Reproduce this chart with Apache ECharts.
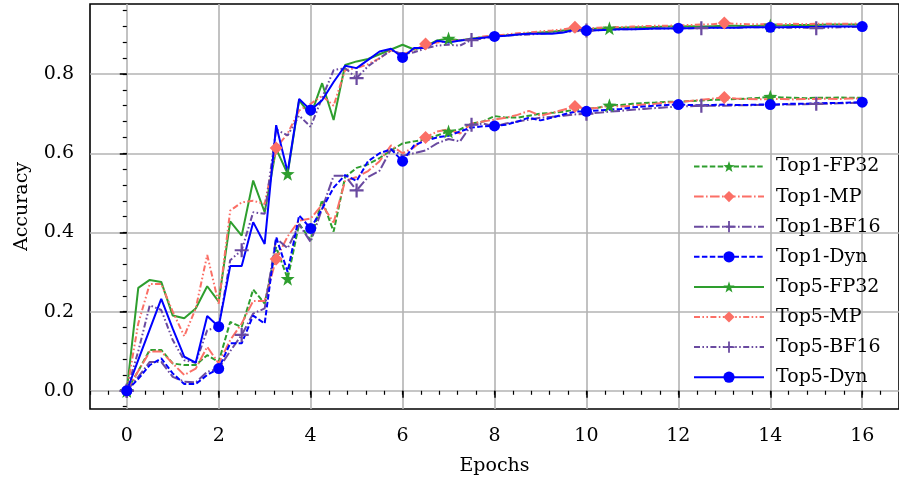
<!DOCTYPE html>
<html>
<head>
<meta charset="utf-8">
<script src="https://cdn.jsdelivr.net/npm/echarts@6/dist/echarts.min.js"></script>
<style>
html,body{margin:0;padding:0;background:#fff;}
#chart{width:899px;height:483px;}
</style>
</head>
<body>
<div id="chart"></div>
<script>
const epochs = [0,0.25,0.5,0.75,1,1.25,1.5,1.75,2,2.25,2.5,2.75,3,3.25,3.5,3.75,4,4.25,4.5,4.75,5,5.25,5.5,5.75,6,6.25,6.5,6.75,7,7.25,7.5,7.75,8,8.25,8.5,8.75,9,9.25,9.5,9.75,10,10.25,10.5,10.75,11,11.25,11.5,11.75,12,12.25,12.5,12.75,13,13.25,13.5,13.75,14,14.25,14.5,14.75,15,15.25,15.5,15.75,16];

const top1FP32 = [0,0.05,0.103,0.103, 0.069,0.065,0.065,0.09, 0.073,0.174,0.161,0.256, 0.22,0.363,0.283,0.422, 0.38,0.482,0.402,0.54, 0.563,0.572,0.588,0.607, 0.625,0.63,0.635,0.645, 0.655,0.66,0.675,0.68, 0.694,0.69,0.69,0.695, 0.7,0.702,0.705,0.71, 0.712,0.715,0.721,0.722, 0.725,0.727,0.728,0.73, 0.73,0.732,0.733,0.735, 0.735,0.737,0.738,0.74, 0.743,0.741,0.74,0.739, 0.74,0.74,0.741,0.74, 0.74];
const top1MP = [0,0.05,0.099,0.099, 0.069,0.04,0.056,0.111, 0.069,0.128,0.17,0.227, 0.227,0.333,0.39,0.43, 0.435,0.47,0.425,0.53, 0.54,0.555,0.58,0.62, 0.6,0.615,0.64,0.655, 0.66,0.65,0.675,0.68, 0.685,0.69,0.697,0.707, 0.695,0.702,0.71,0.718, 0.712,0.715,0.72,0.718, 0.72,0.723,0.725,0.728, 0.73,0.732,0.735,0.738, 0.741,0.738,0.737,0.736, 0.737,0.737,0.736,0.737, 0.737,0.738,0.737,0.738, 0.738];
const top1BF16 = [0,0.035,0.073,0.073, 0.035,0.023,0.021,0.048, 0.056,0.1,0.141,0.195, 0.208,0.385,0.36,0.42, 0.376,0.46,0.543,0.543, 0.506,0.54,0.556,0.61, 0.594,0.6,0.607,0.625, 0.636,0.63,0.672,0.675, 0.668,0.675,0.68,0.685, 0.69,0.692,0.695,0.698, 0.7,0.702,0.705,0.707, 0.71,0.712,0.714,0.716, 0.718,0.719,0.72,0.72, 0.72,0.721,0.721,0.722, 0.722,0.723,0.723,0.724, 0.725,0.725,0.726,0.727, 0.728];
const top1Dyn = [0,0.03,0.065,0.082, 0.044,0.017,0.017,0.04, 0.056,0.12,0.12,0.19, 0.17,0.388,0.3,0.443, 0.41,0.46,0.513,0.545, 0.53,0.58,0.6,0.61, 0.58,0.62,0.632,0.64, 0.644,0.655,0.665,0.668, 0.669,0.672,0.68,0.69, 0.683,0.69,0.698,0.705, 0.706,0.708,0.71,0.712, 0.716,0.718,0.72,0.722, 0.723,0.722,0.721,0.722, 0.723,0.722,0.722,0.723, 0.723,0.724,0.725,0.725, 0.726,0.727,0.727,0.728, 0.729];
const top5FP32 = [0,0.26,0.28,0.275, 0.19,0.183,0.208,0.264, 0.225,0.428,0.392,0.531, 0.451,0.611,0.548,0.734, 0.695,0.777,0.684,0.823, 0.832,0.838,0.85,0.862, 0.874,0.862,0.87,0.885, 0.89,0.885,0.89,0.893, 0.897,0.898,0.9,0.903, 0.905,0.907,0.91,0.912, 0.913,0.915,0.916,0.917, 0.918,0.918,0.919,0.92, 0.92,0.921,0.92,0.921, 0.922,0.922,0.921,0.922, 0.923,0.923,0.924,0.924, 0.924,0.925,0.925,0.925, 0.925];
const top5MP = [0,0.17,0.27,0.27, 0.2,0.138,0.208,0.343, 0.22,0.455,0.476,0.48, 0.472,0.613,0.65,0.708, 0.725,0.745,0.72,0.81, 0.815,0.825,0.84,0.86, 0.85,0.86,0.876,0.88, 0.882,0.886,0.888,0.895, 0.897,0.9,0.903,0.905, 0.908,0.91,0.913,0.918, 0.915,0.917,0.918,0.919, 0.92,0.921,0.922,0.922, 0.923,0.924,0.925,0.926, 0.929,0.927,0.926,0.926, 0.926,0.926,0.927,0.926, 0.927,0.927,0.927,0.927, 0.928];
const top5BF16 = [0,0.1,0.216,0.204, 0.128,0.077,0.071,0.153, 0.162,0.33,0.355,0.451, 0.447,0.66,0.645,0.695, 0.667,0.74,0.81,0.815, 0.79,0.82,0.84,0.86, 0.85,0.855,0.865,0.872, 0.874,0.872,0.886,0.89, 0.895,0.897,0.899,0.9, 0.902,0.904,0.906,0.908, 0.91,0.911,0.912,0.913, 0.913,0.914,0.915,0.915, 0.916,0.916,0.916,0.917, 0.917,0.917,0.918,0.918, 0.918,0.917,0.917,0.917, 0.916,0.917,0.918,0.919, 0.92];
const top5Dyn = [0,0.078,0.155,0.232, 0.157,0.086,0.071,0.189, 0.162,0.315,0.315,0.426, 0.371,0.671,0.552,0.737, 0.709,0.734,0.78,0.821, 0.815,0.836,0.857,0.864, 0.842,0.866,0.866,0.884, 0.88,0.885,0.888,0.892, 0.895,0.897,0.9,0.902, 0.902,0.902,0.905,0.912, 0.91,0.911,0.912,0.913, 0.913,0.914,0.915,0.915, 0.916,0.916,0.917,0.917, 0.917,0.917,0.918,0.918, 0.918,0.918,0.919,0.919, 0.919,0.92,0.92,0.92, 0.92];

const xMajorTicks = [0,2,4,6,8,10,12,14,16];
const xMinorTicks = [-0.8,-0.4,0,0.4,0.8,1.2,1.6,2,2.4,2.8,3.2,3.6,4,4.4,4.8,5.2,5.6,6,6.4,6.8,7.2,7.6,8,8.4,8.8,9.2,9.6,10,10.4,10.8,11.2,11.6,12,12.4,12.8,13.2,13.6,14,14.4,14.8,15.2,15.6,16,16.4,16.8];
const yMajorTicks = [0,0.2,0.4,0.6,0.8];
const yMinorTicks = [-0.04,0,0.04,0.08,0.12,0.16,0.2,0.24,0.28,0.32,0.36,0.4,0.44,0.48,0.52,0.56,0.6,0.64,0.68,0.72,0.76,0.8,0.84,0.88,0.92,0.96];

const GREEN = '#2e9e2e', SALMON = '#fb6f66', PURPLE = '#6a4aa0', BLUE = '#0000ff';
const STAR = 'path://M0,-10 L2.35,-3.24 L9.51,-3.09 L3.8,1.24 L5.88,8.09 L0,4 L-5.88,8.09 L-3.8,1.24 L-9.51,-3.09 L-2.35,-3.24 Z';
const PLUS = 'path://M-1.6,-10 L1.6,-10 L1.6,-1.6 L10,-1.6 L10,1.6 L1.6,1.6 L1.6,10 L-1.6,10 L-1.6,1.6 L-10,1.6 L-10,-1.6 L-1.6,-1.6 Z';
const DASHED = [5.5, 2.4];
const DASHDOT = [9.6, 2.4, 1.6, 2.4];
const DASHDOTDOT = [6, 2.4, 1.6, 2.4, 1.6, 2.4];

function mk(name, vals, color, dash, symbol, size, every) {
  return {
    name: name,
    type: 'line',
    data: epochs.map((e, i) => [e, vals[i]]),
    xAxisIndex: 0, yAxisIndex: 0,
    color: color,
    lineStyle: { color: color, width: 2, type: dash },
    itemStyle: { color: color },
    symbol: symbol,
    symbolSize: (v, p) => (p.dataIndex % every === 0 ? size : 0),
    showSymbol: true,
    showAllSymbol: true,
    z: 3
  };
}

const series = [
  mk('Top1-FP32', top1FP32, GREEN, DASHED, STAR, 14, 14),
  mk('Top1-MP', top1MP, SALMON, DASHDOT, 'diamond', 13, 13),
  mk('Top1-BF16', top1BF16, PURPLE, DASHDOT, PLUS, 14, 10),
  mk('Top1-Dyn', top1Dyn, BLUE, DASHED, 'circle', 11, 8),
  mk('Top5-FP32', top5FP32, GREEN, 'solid', STAR, 14, 14),
  mk('Top5-MP', top5MP, SALMON, DASHDOTDOT, 'diamond', 13, 13),
  mk('Top5-BF16', top5BF16, PURPLE, DASHDOTDOT, PLUS, 14, 10),
  mk('Top5-Dyn', top5Dyn, BLUE, 'solid', 'circle', 11, 8)
];

const FONT = 'DejaVu Serif';
const chart = echarts.init(document.getElementById('chart'), null, { renderer: 'canvas' });
chart.setOption({
  animation: false,
  backgroundColor: '#fff',
  textStyle: { fontFamily: FONT },
  grid: [{ left: 90, top: 4, width: 815, height: 405, show: true, borderColor: '#000', borderWidth: 1.6, backgroundColor: 'transparent' }],
  xAxis: [
    {
      type: 'value', gridIndex: 0, min: -0.8, max: 16.8, position: 'bottom',
      name: 'Epochs', nameLocation: 'middle', nameGap: 48,
      nameTextStyle: { fontFamily: FONT, fontSize: 19, color: '#000' },
      axisLine: { show: false },
      axisTick: { show: true, customValues: xMajorTicks, length: 7, inside: false, lineStyle: { color: '#000', width: 1.5 } },
      axisLabel: { show: true, customValues: xMajorTicks, margin: 18, fontFamily: FONT, fontSize: 19, color: '#000', formatter: v => String(v) },
      splitLine: { show: true, lineStyle: { color: '#b3b3b3', width: 1.6 } }
    },
    {
      type: 'value', gridIndex: 0, min: -0.8, max: 16.8, position: 'bottom', offset: 0,
      axisLine: { show: false },
      axisTick: { show: true, customValues: xMinorTicks, length: 4, inside: false, lineStyle: { color: '#000', width: 1.2 } },
      axisLabel: { show: false },
      splitLine: { show: false }
    }
  ],
  yAxis: [
    {
      type: 'value', gridIndex: 0, min: -0.046, max: 0.977, position: 'left',
      name: 'Accuracy', nameLocation: 'middle', nameGap: 58,
      nameTextStyle: { fontFamily: FONT, fontSize: 19, color: '#000' },
      axisLine: { show: false },
      axisTick: { show: true, customValues: yMajorTicks, length: 7, inside: false, lineStyle: { color: '#000', width: 1.5 } },
      axisLabel: { show: true, customValues: yMajorTicks, margin: 16, fontFamily: FONT, fontSize: 19, color: '#000', formatter: v => v.toFixed(1) },
      splitLine: { show: true, lineStyle: { color: '#b3b3b3', width: 1.6 } }
    },
    {
      type: 'value', gridIndex: 0, min: -0.046, max: 0.977, position: 'left', offset: 0,
      axisLine: { show: false },
      axisTick: { show: true, customValues: yMinorTicks, length: 4, inside: false, lineStyle: { color: '#000', width: 1.2 } },
      axisLabel: { show: false },
      splitLine: { show: false }
    }
  ],
  legend: {
    orient: 'vertical', left: 688, top: 152,
    itemWidth: 70, itemHeight: 14, itemGap: 11.1,
    textStyle: { fontFamily: FONT, fontSize: 19, color: '#000', padding: [0, 0, 0, 7] },
    data: series.map(s => s.name)
  },
  series: series
});
</script>
</body>
</html>
